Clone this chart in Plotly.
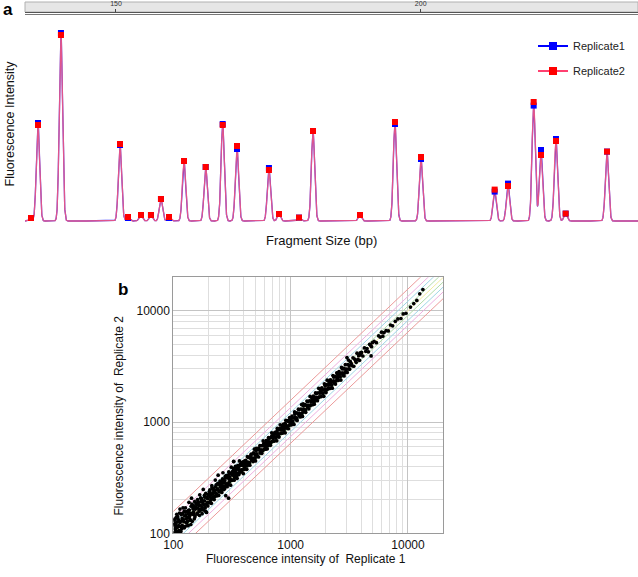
import numpy as np
import plotly.graph_objects as go

# ---------------- Panel a: electropherogram peaks ----------------
peak_bp = [136.05, 137.2, 140.97, 150.66, 151.97, 154.1, 155.74, 157.38, 158.7,
           161.16, 164.72, 167.51, 169.86, 175.1, 176.75, 180.03, 182.33, 190.04,
           195.78, 200.05, 212.14, 214.33, 218.54, 219.74, 222.2, 223.79, 230.57]
rep1_peak = [1.5, 49, 94, 38, 1.5, 3, 3, 11, 1.5, 30, 27, 48.5, 36, 26.5, 3.5, 1.7,
             45, 3, 48.5, 31, 14.7, 18.7, 57.7, 35.5, 41, 3.7, 34.7]
rep2_peak = [1.5, 48, 93, 38.5, 2, 3, 3, 11, 2, 30, 27, 48, 37.5, 25.5, 3.5, 1.7,
             45, 3, 49.5, 32, 15.7, 17.5, 59.5, 33, 40, 3.7, 34.7]
ruler_ticks = [150, 200]
bp_range = [135.07, 235.66]
peak_sigma = 0.27

# ---------------- Panel b: replicate scatter ----------------
rep1_int = [
    101, 102, 103, 104, 105, 106, 107, 108, 109, 110, 111, 112, 114, 115, 117, 118, 120, 121, 123, 125,
    126, 127, 129, 130, 131, 133, 134, 136, 137, 139, 140, 142, 143, 145, 147, 148, 150, 152, 154, 156,
    158, 160, 161, 163, 165, 167, 168, 170, 172, 174, 176, 178, 180, 182, 185, 187, 189, 192, 195, 198,
    200, 202, 205, 207, 209, 211, 213, 216, 218, 220, 223, 225, 228, 230, 233, 236, 238, 241, 245, 248,
    251, 254, 257, 259, 262, 265, 268, 271, 274, 277, 280, 283, 286, 290, 293, 297, 300, 304, 308, 312,
    316, 319, 323, 327, 330, 334, 338, 342, 346, 350, 354, 358, 362, 366, 370, 375, 380, 385, 390, 395,
    398, 403, 408, 413, 418, 423, 428, 433, 438, 444, 449, 455, 461, 467, 473, 479, 485, 491, 497, 500,
    502, 508, 514, 520, 527, 533, 540, 547, 554, 561, 568, 575, 583, 590, 598, 606, 613, 620, 625, 630,
    632, 640, 648, 656, 664, 672, 681, 690, 699, 708, 717, 726, 735, 745, 755, 762, 770, 778, 785, 791,
    796, 805, 815, 825, 835, 845, 856, 866, 877, 888, 899, 910, 921, 933, 944, 956, 968, 980, 990, 998,
    1004, 1016, 1029, 1042, 1055, 1068, 1081, 1095, 1108, 1122, 1136, 1150, 1165, 1179, 1194, 1209, 1224, 1239, 1250, 1257,
    1262, 1278, 1294, 1310, 1326, 1343, 1360, 1377, 1394, 1411, 1429, 1447, 1465, 1483, 1502, 1520, 1539, 1558, 1570, 1580,
    1590, 1610, 1630, 1650, 1671, 1692, 1713, 1734, 1756, 1778, 1800, 1822, 1845, 1868, 1891, 1915, 1939, 1963, 1980, 1992,
    2001, 2026, 2051, 2077, 2103, 2129, 2156, 2183, 2210, 2238, 2266, 2294, 2323, 2352, 2381, 2411, 2441, 2471, 2490, 2505,
    2520, 2551, 2583, 2615, 2648, 2681, 2714, 2748, 2783, 2818, 2853, 2889, 2925, 2961, 2998, 3035, 3073, 3111, 3135, 3155,
    3180, 3230, 3290, 3340, 3400, 3450, 3510, 3570, 3620, 3680, 3740, 3800, 3860, 3920, 3970,
    4020, 4130, 4250, 4370, 4480, 4600, 4710, 4820, 4900, 4980,
    5150, 5380, 5620, 5800, 5950, 6100, 6250,
    6500, 6800, 7100, 7400, 7800,
    8200, 8700, 9100, 9600,
    10500, 11200, 11900, 12600, 13400,
    103, 106, 111, 113, 116, 119, 122, 124, 128, 132, 135, 138, 141, 144, 149, 153, 157, 162, 166, 171,
    175, 179, 184, 188, 193, 197, 203, 208, 214, 219, 226, 232, 239, 244, 250, 256, 263, 269, 275, 282,
    288, 295, 302, 310, 318, 325, 333, 341, 348, 356, 364, 372, 382, 392,
    296, 327, 3020, 4850,
    102, 104, 107, 109, 112, 114, 117, 119, 122, 124, 127, 129, 132, 134, 137, 139, 142, 145, 148, 151,
    155, 159, 163, 167, 172, 176, 181, 186, 191, 196, 201, 206, 212, 217, 222, 229, 235, 242, 247, 253,
    260, 266, 273, 279, 285, 292, 299, 306, 314, 322, 330, 339, 347, 355, 363, 371, 379, 388, 397, 406,
    415, 426, 437, 447, 458, 470, 482, 494, 507, 520, 534, 548, 562, 577, 592, 608, 624, 640, 657, 674,
    692, 710, 729, 748, 768, 788, 809, 830, 852, 875, 898, 922, 946, 971, 997, 1040, 1085, 1132, 1181, 1232,
    1285, 1341, 1399, 1460, 1523, 1589, 1658, 1730, 1805, 1883, 1965, 2050, 2139, 2232, 2329, 2430, 2535, 2645, 2760, 2880,
]
rep2_int = [
    119, 101, 134, 112, 118, 102, 148, 113, 104, 134, 103, 129, 165, 115, 129, 110, 151, 169, 127, 143,
    115, 169, 135, 125, 157, 117, 151, 190, 137, 152, 132, 175, 207, 149, 166, 172, 147, 193, 165, 173,
    182, 152, 201, 168, 178, 145, 222, 179, 162, 205, 150, 196, 248, 180, 196, 170, 229, 154, 189, 224,
    220, 190, 246, 211, 222, 186, 268, 225, 209, 251, 201, 243, 301, 228, 245, 217, 278, 333, 240, 275,
    261, 244, 293, 233, 283, 350, 265, 285, 252, 324, 218, 277, 317, 319, 275, 356, 306, 322, 271, 393,
    300, 357, 333, 441, 300, 357, 399, 332, 349, 312, 407, 376, 337, 447, 370, 409, 357, 435, 406, 344,
    422, 375, 449, 405, 431, 376, 488, 437, 416, 480, 409, 473, 516, 453, 473, 441, 519, 570, 477, 510,
    447, 579, 519, 494, 569, 485, 562, 613, 537, 561, 523, 615, 676, 566, 610, 642, 570, 682, 613, 649,
    575, 666, 726, 636, 664, 618, 729, 800, 671, 722, 760, 675, 809, 730, 778, 678, 878, 786, 746, 854,
    732, 861, 945, 792, 852, 896, 796, 953, 859, 915, 800, 1037, 930, 886, 1020, 870, 1007, 1098, 960, 998,
    1064, 945, 1132, 1021, 1087, 951, 1232, 1106, 1053, 1212, 1034, 1196, 1305, 1144, 1194, 1112, 1310, 1437, 1200, 1282,
    1123, 1457, 1307, 1245, 1432, 1222, 1414, 1542, 1352, 1411, 1315, 1548, 1699, 1424, 1532, 1611, 1431, 1714, 1539, 1627,
    1447, 1674, 1826, 1601, 1671, 1557, 1833, 2011, 1686, 1814, 1908, 1694, 2030, 1831, 1948, 1704, 2210, 1983, 1881, 2151,
    1841, 2168, 2379, 1994, 2145, 2257, 2005, 2401, 2166, 2305, 2017, 2615, 2346, 2234, 2571, 2194, 2539, 2768, 2415, 2505,
    2671, 2372, 2841, 2563, 2727, 2386, 3094, 2775, 2644, 3043, 2596, 3005, 3276, 2872, 2998, 2792, 3288, 3609, 3010, 3218,
    2989, 3488, 3356, 3206, 3774, 3174, 3686, 3570, 3439, 4158, 3665, 3952, 3590, 4194, 4010,
    4221, 3924, 4633, 4326, 4570, 4278, 4993, 4868, 4753, 5179,
    5305, 5165, 5957, 5800, 6426, 5917, 6375,
    6630, 6596, 7455, 7326, 8034,
    8446, 8526, 9373, 9504,
    10800, 11600, 12400, 14200, 15500,
    122, 139, 117, 152, 104, 136, 114, 158, 146, 128, 161, 144, 120, 183, 156, 141, 186, 190, 160, 208,
    167, 185, 219, 158, 212, 176, 237, 198, 258, 232, 214, 272, 251, 219, 295, 270, 308, 247, 296, 330,
    262, 318, 347, 299, 337, 381, 318, 372, 330, 395, 350, 418, 371, 430,
    207, 443, 3800, 3930,
    131, 108, 126, 141, 106, 125, 147, 118, 133, 112, 155, 124, 139, 118, 162, 131, 150, 128, 178, 135,
    167, 149, 187, 158, 194, 171, 162, 211, 182, 205, 188, 232, 204, 249, 213, 262, 226, 281, 236, 284,
    252, 302, 264, 315, 278, 331, 288, 344, 303, 361, 347, 316, 389, 342, 398, 359, 417, 371, 442, 392,
    452, 404, 482, 431, 501, 452, 528, 473, 550, 496, 583, 526, 612, 552, 645, 582, 681, 613, 712, 646,
    752, 680, 790, 717, 838, 754, 878, 797, 930, 838, 975, 884, 1032, 930, 1085, 996, 1180, 1085, 1287, 1181,
    1398, 1285, 1524, 1400, 1660, 1524, 1805, 1660, 1967, 1806, 2140, 1967, 2331, 2143, 2536, 2333, 2760, 2539, 3005, 2765,
]
guide_ratios = [1.57, 1.35, 1.22, 1.1, 1.0, 1 / 1.1, 1 / 1.22, 1 / 1.35, 1 / 1.55]
guide_colors = ['#ec9a9a', '#eeb0e0', '#9fd6e6', '#b2dcaa', '#f2eca0',
                '#b2dcaa', '#9fd6e6', '#eeb0e0', '#ec9a9a']
axis_span = [100, 20000]
major_ticks = [100, 1000, 10000]
minor_ticks = [200, 300, 400, 500, 600, 700, 800, 900,
               2000, 3000, 4000, 5000, 6000, 7000, 8000, 9000, 20000]

W, H = 638, 577
FONT = "Liberation Sans, Arial, sans-serif"


def px_x(p):
    return p / W


def px_y(p):
    return 1 - p / H


xs = np.linspace(bp_range[0], bp_range[1], 5000)


def curve(heights):
    y = np.zeros_like(xs)
    for p, h in zip(peak_bp, heights):
        y += h * np.exp(-(xs - p) ** 2 / (2 * peak_sigma ** 2))
    return y


fig = go.Figure()

# panel a traces
fig.add_trace(go.Scatter(x=xs, y=curve(rep1_peak), mode='lines',
                         line=dict(color='#3030ff', width=1.3), showlegend=False,
                         xaxis='x', yaxis='y', hoverinfo='skip'))
fig.add_trace(go.Scatter(x=xs, y=curve(rep2_peak), mode='lines',
                         line=dict(color='rgba(255,90,120,0.85)', width=1.3), showlegend=False,
                         xaxis='x', yaxis='y', hoverinfo='skip'))
fig.add_trace(go.Scatter(x=peak_bp, y=rep1_peak, mode='markers',
                         marker=dict(symbol='square', size=6, color='#0000ff'),
                         showlegend=False, xaxis='x', yaxis='y', cliponaxis=False))
fig.add_trace(go.Scatter(x=peak_bp, y=rep2_peak, mode='markers',
                         marker=dict(symbol='square', size=6, color='#ff0000'),
                         showlegend=False, xaxis='x', yaxis='y', cliponaxis=False))
# legend entries
fig.add_trace(go.Scatter(x=[None], y=[None], mode='lines+markers', name='Replicate1',
                         legendgroup='r1',
                         line=dict(color='#0000ff', width=2),
                         marker=dict(symbol='square', size=8, color='#0000ff'),
                         xaxis='x', yaxis='y'))
fig.add_trace(go.Scatter(x=[None], y=[None], mode='lines+markers', name='Replicate2',
                         legendgroup='r2',
                         line=dict(color='#ff4070', width=2),
                         marker=dict(symbol='square', size=8, color='#ff0000'),
                         xaxis='x', yaxis='y'))
# ruler axis carrier (no visible marks)
fig.add_trace(go.Scatter(x=[None], y=[None], mode='markers', showlegend=False,
                         xaxis='x3', yaxis='y3', hoverinfo='skip'))

# panel b guide lines
for r, c in zip(guide_ratios, guide_colors):
    fig.add_trace(go.Scatter(x=axis_span, y=[v * r for v in axis_span], mode='lines',
                             line=dict(color=c, width=1), showlegend=False,
                             xaxis='x2', yaxis='y2', hoverinfo='skip'))
fig.add_trace(go.Scatter(x=rep1_int, y=rep2_int, mode='markers',
                         marker=dict(size=3.7, color='#000000'),
                         showlegend=False, xaxis='x2', yaxis='y2'))

hidden = dict(showticklabels=False, showgrid=False, zeroline=False, showline=False, ticks='')

fig.update_layout(
    width=W, height=H,
    margin=dict(l=0, r=0, t=0, b=0, pad=0, autoexpand=False),
    paper_bgcolor='white', plot_bgcolor='rgba(0,0,0,0)',
    font=dict(family=FONT, color='#111'),
    xaxis=dict(domain=[px_x(25), 1], range=bp_range, anchor='y', **hidden),
    yaxis=dict(domain=[px_y(225), px_y(21)], range=[-2, 100], anchor='x', **hidden),
    xaxis3=dict(domain=[px_x(25), 1], anchor='y3', side='bottom',
                range=bp_range, tickmode='array', tickvals=ruler_ticks,
                ticks='inside', ticklen=3, tickcolor='#444', ticklabelposition='inside',
                showline=True, linecolor='#555', linewidth=1,
                tickfont=dict(size=7, color='#333'),
                showgrid=False, zeroline=False, automargin=False),
    yaxis3=dict(domain=[px_y(12), px_y(2)], anchor='x3', range=[0, 1], **hidden),
    xaxis2=dict(domain=[px_x(173.3), px_x(443.3)], anchor='y2', type='log',
                range=[np.log10(axis_span[0]), np.log10(axis_span[1])],
                tickmode='array', tickvals=major_ticks,
                ticktext=[str(v) for v in major_ticks],
                tickfont=dict(size=12, color='#111'),
                showgrid=True, gridcolor='#c4c4c4', gridwidth=1,
                minor=dict(tickmode='array', tickvals=minor_ticks, showgrid=True,
                           gridcolor='#dedede', gridwidth=1),
                showline=True, linecolor='#9a9a9a', mirror=True, zeroline=False, ticks='',
                automargin=False),
    yaxis2=dict(domain=[px_y(533.3), px_y(277.3)], anchor='x2', type='log',
                range=[np.log10(axis_span[0]), np.log10(axis_span[1])],
                tickmode='array', tickvals=major_ticks,
                ticktext=[str(v) for v in major_ticks],
                tickfont=dict(size=12, color='#111'),
                showgrid=True, gridcolor='#c4c4c4', gridwidth=1,
                minor=dict(tickmode='array', tickvals=minor_ticks, showgrid=True,
                           gridcolor='#dedede', gridwidth=1),
                showline=True, linecolor='#9a9a9a', mirror=True, zeroline=False, ticks='',
                automargin=False),
    legend=dict(x=px_x(533), y=px_y(31.5), xanchor='left', yanchor='top',
                font=dict(size=11, color='#222', family=FONT),
                bgcolor='rgba(0,0,0,0)', tracegroupgap=6, traceorder='grouped'),
    shapes=[
        dict(type='rect', xref='paper', yref='paper', x0=px_x(25), x1=1,
             y0=px_y(12), y1=px_y(2), fillcolor='#e6e6e6',
             line=dict(color='#b0b0b0', width=1), layer='below'),
        dict(type='line', xref='paper', yref='paper', x0=px_x(25), x1=1,
             y0=px_y(14.5), y1=px_y(14.5), line=dict(color='#777', width=1)),
    ],
    annotations=[
        dict(text='<b>a</b>', x=px_x(8), y=px_y(10), xref='paper', yref='paper',
             xanchor='center', yanchor='middle',
             showarrow=False, font=dict(size=17, color='#000')),
        dict(text='<b>b</b>', x=px_x(123), y=px_y(289), xref='paper', yref='paper',
             xanchor='center', yanchor='middle',
             showarrow=False, font=dict(size=17, color='#000')),
        dict(text='Fluorescence Intensity', x=px_x(9.5), y=px_y(124), xref='paper',
             yref='paper', showarrow=False, textangle=-90, xanchor='center', yanchor='middle',
             font=dict(size=12.5, color='#111')),
        dict(text='Fragment Size (bp)', x=px_x(321), y=px_y(240), xref='paper',
             yref='paper', showarrow=False, xanchor='center', yanchor='middle',
             font=dict(size=13, color='#111')),
        dict(text='Fluorescence intensity of\u00a0 Replicate 1', x=px_x(306), y=px_y(559),
             xref='paper', yref='paper', showarrow=False, xanchor='center', yanchor='middle',
             font=dict(size=12, color='#111')),
        dict(text='Fluorescence intensity of\u00a0 Replicate 2', x=px_x(118.5), y=px_y(416),
             xref='paper', yref='paper', showarrow=False, textangle=-90,
             xanchor='center', yanchor='middle',
             font=dict(size=12, color='#111')),
    ],
)

fig.write_html("out.html", config={'displayModeBar': False},
               post_script="document.body.style.margin='0';document.body.style.padding='0';")
